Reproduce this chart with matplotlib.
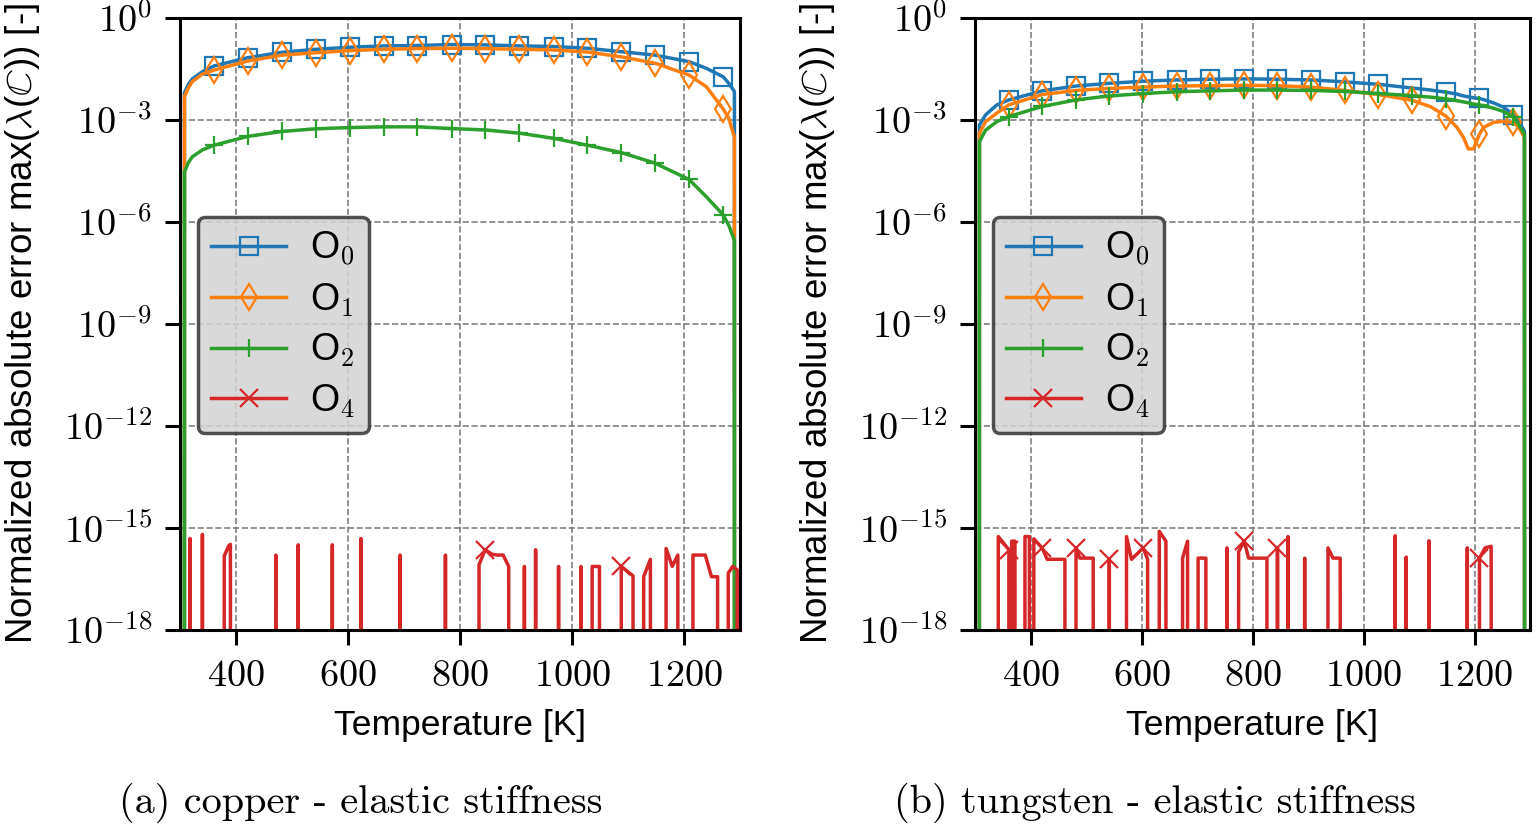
import numpy as np
import matplotlib
matplotlib.use("Agg")
import matplotlib.pyplot as plt
from matplotlib.ticker import FixedLocator, FixedFormatter, NullLocator

plt.rcParams['font.family'] = ['Liberation Sans', 'DejaVu Sans']
plt.rcParams['mathtext.fontset'] = 'cm'
plt.rcParams['font.size'] = 25

# marker positions (every ~60 K)
T_MARK = [361, 421, 482, 542, 603, 664, 724, 785, 845, 906, 967, 1027, 1088, 1148, 1209, 1270]

# ---- copper ----
cu_T = [300, 308, 315, 322, 340, 361, 421, 482, 542, 603, 664, 724, 785, 845, 906, 967,
        1027, 1088, 1148, 1209, 1240, 1270, 1280, 1290, 1300]
cu_o0 = [0, 6.3e-3, 1.12e-2, 1.62e-2, 2.63e-2, 3.9e-2, 6.8e-2, 9.8e-2, 0.12, 0.138, 0.151, 0.155,
         0.166, 0.162, 0.151, 0.145, 0.129, 0.102, 8.1e-2, 5.2e-2, 3.3e-2, 1.86e-2, 1.2e-2, 6.9e-3, 0]
cu_o1 = [0, 4.9e-3, 8.9e-3, 1.35e-2, 2.24e-2, 2.95e-2, 5.4e-2, 8.1e-2, 9.5e-2, 0.11, 0.12, 0.126,
         0.129, 0.126, 0.12, 0.115, 0.1, 7.2e-2, 4.7e-2, 2.1e-2, 9.5e-3, 2.1e-3, 1.12e-3, 3.2e-4, 0]
cu_o2 = [0, 3.0e-5, 5.6e-5, 8.3e-5, 1.32e-4, 1.82e-4, 3.3e-4, 4.6e-4, 5.5e-4, 6.0e-4, 6.3e-4, 6.3e-4,
         5.6e-4, 5.1e-4, 4.1e-4, 2.9e-4, 1.82e-4, 1.1e-4, 5.4e-5, 1.78e-5, 5.5e-6, 1.62e-6, 7.9e-7,
         2.9e-7, 0]
cu_o4_T = [300, 318, 329, 340, 360, 379, 387, 390, 430, 471, 490, 511, 540, 572, 600, 623, 660,
           693, 730, 774, 800, 834, 845, 857, 867, 877, 887, 900, 915, 925, 935, 955, 976, 995,
           1016, 1025, 1036, 1049, 1070, 1088, 1109, 1118, 1128, 1140, 1155, 1168, 1179, 1189,
           1200, 1216, 1238, 1249, 1260, 1270, 1279, 1287, 1295, 1300]
cu_o4 = [0, 4.9e-16, 0, 6.5e-16, 0, 1.5e-16, 3.0e-16, 3.3e-16, 0, 1.6e-16, 0, 3.2e-16, 0, 3.2e-16, 0,
         4.9e-16, 0, 1.6e-16, 0, 1.6e-16, 0, 8.3e-17, 2.3e-16, 1.7e-16, 1.6e-16, 1.6e-16, 7.4e-17, 0,
         7.4e-17, 0, 2.3e-16, 0, 7.4e-17, 0, 7.4e-17, 0, 7.4e-17, 7.4e-17, 0, 7.4e-17, 3.9e-17, 0,
         3.7e-17, 1.2e-16, 0, 2.5e-16, 7.4e-17, 1.6e-16, 0, 1.6e-16, 1.6e-16, 3.7e-17, 3.7e-17, 0,
         4.7e-17, 7.4e-17, 5.9e-17, 0]

# ---- tungsten ----
w_T = [300, 308, 319, 339, 361, 421, 482, 542, 603, 664, 724, 785, 845, 906, 967, 1027, 1088,
       1121, 1148, 1168, 1180, 1189, 1198, 1209, 1216, 1234, 1252, 1270, 1280, 1290, 1300]
w_o0 = [0, 7.1e-4, 1.41e-3, 2.75e-3, 3.9e-3, 7.2e-3, 1.0e-2, 1.2e-2, 1.38e-2, 1.51e-2, 1.58e-2,
        1.62e-2, 1.58e-2, 1.51e-2, 1.32e-2, 1.12e-2, 8.7e-3, 7.6e-3, 6.6e-3, 5.8e-3, 5.1e-3, 4.8e-3,
        4.5e-3, 4.3e-3, 4.0e-3, 3.2e-3, 2.4e-3, 1.45e-3, 8.9e-4, 4.7e-4, 0]
w_o1 = [0, 4.1e-4, 8.9e-4, 1.58e-3, 2.8e-3, 5.6e-3, 7.4e-3, 8.5e-3, 9.3e-3, 1.0e-2, 1.02e-2,
        1.05e-2, 1.02e-2, 9.3e-3, 7.4e-3, 5.6e-3, 3.8e-3, 2.45e-3, 1.32e-3, 6.2e-4, 3.1e-4,
        1.41e-4, 1.41e-4, 3.8e-4, 6.0e-4, 8.5e-4, 9.1e-4, 8.5e-4, 6.0e-4, 3.1e-4, 0]
w_o2 = [0, 2.3e-4, 5.0e-4, 8.9e-4, 1.26e-3, 2.5e-3, 3.9e-3, 5.1e-3, 6.0e-3, 6.8e-3, 7.2e-3,
        7.6e-3, 7.6e-3, 7.4e-3, 6.9e-3, 6.0e-3, 5.2e-3, 4.7e-3, 4.2e-3, 3.7e-3, 3.4e-3, 3.2e-3,
        2.95e-3, 2.8e-3, 2.6e-3, 2.24e-3, 1.78e-3, 1.23e-3, 7.1e-4, 3.8e-4, 0]
w_o4_T = [300, 342, 361, 363, 366, 372, 380, 390, 398, 402, 406, 421, 430, 462, 470, 482, 489, 513,
          525, 542, 555, 573, 582, 603, 611, 620, 632, 644, 655, 674, 683, 690, 702, 716, 730, 754,
          765, 775, 785, 793, 826, 835, 845, 855, 864, 880, 894, 915, 936, 945, 958, 1000, 1057,
          1065, 1077, 1100, 1118, 1150, 1187, 1200, 1209, 1219, 1230, 1260, 1300]
w_o4 = [0, 5.6e-16, 2.3e-16, 0, 4.1e-16, 4.1e-16, 0, 5.6e-16, 5.6e-16, 0, 4.8e-16, 2.6e-16,
        1.2e-16, 1.2e-16, 0, 2.6e-16, 1.3e-16, 1.3e-16, 0, 1.2e-16, 0, 5.6e-16, 1.2e-16, 2.6e-16,
        1.2e-16, 0, 8e-16, 4.1e-16, 0, 1.3e-16, 4.1e-16, 0, 1.3e-16, 1.3e-16, 0, 2.6e-16, 0,
        2.0e-16, 4.1e-16, 1.3e-16, 1.3e-16, 0, 2.6e-16, 0, 5.6e-16, 0, 1.3e-16, 0, 2.6e-16,
        1.3e-16, 1.3e-16, 0, 5.9e-16, 0, 1.4e-16, 0, 4.2e-16, 0, 2.6e-16, 0, 1.3e-16, 2.6e-16,
        2.9e-16, 0, 0]

labels = ['O$_0$', 'O$_1$', 'O$_2$', 'O$_4$']
markers = ['s', 'd', '+', 'x']
colors = ['tab:blue', 'tab:orange', 'tab:green', 'tab:red']
yticks = [1e0, 1e-3, 1e-6, 1e-9, 1e-12, 1e-15, 1e-18]
ylabels = [r'$10^{0}$', r'$10^{-3}$', r'$10^{-6}$', r'$10^{-9}$', r'$10^{-12}$', r'$10^{-15}$',
           r'$10^{-18}$']
xticks = [400, 600, 800, 1000, 1200]

panels = [
    ([cu_T, cu_T, cu_T, cu_o4_T], [cu_o0, cu_o1, cu_o2, cu_o4], '(a) copper - elastic stiffness'),
    ([w_T, w_T, w_T, w_o4_T], [w_o0, w_o1, w_o2, w_o4], '(b) tungsten - elastic stiffness'),
]

fig = plt.figure(figsize=(15.36, 8.24), dpi=100)
ax1 = fig.add_axes([180 / 1536, 1 - 630 / 824, 560 / 1536, 612 / 824])
ax2 = fig.add_axes([975 / 1536, 1 - 630 / 824, 555 / 1536, 612 / 824])

for ax, (Ts, Ys, caption), cx in zip([ax1, ax2], panels, [361, 1155]):
    ax.set_yscale('log', nonpositive='clip')
    for T, y, lab, mk, c in zip(Ts, Ys, labels, markers, colors):
        T = np.array(T, dtype=float)
        ax.plot(T, np.array(y, dtype=float), color=c, lw=2.5, marker=mk, ms=13, mew=1.6,
                mfc='none', markevery=list(np.where(np.isin(T, T_MARK))[0]), label=lab)
    ax.set_xlim(300, 1300)
    ax.set_ylim(1e-18, 1.0)
    ax.yaxis.set_major_locator(FixedLocator(yticks))
    ax.yaxis.set_major_formatter(FixedFormatter(ylabels))
    ax.yaxis.set_minor_locator(NullLocator())
    ax.set_xticks(xticks)
    ax.set_xticklabels([r'$%d$' % v for v in xticks])
    ax.tick_params(width=2.2, length=11, labelsize=27.5, pad=9)
    for s in ax.spines.values():
        s.set_linewidth(2.2)
    ax.grid(True, ls='--', color='gray', lw=1.2)
    ax.set_xlabel('Temperature [K]', fontsize=25.5, labelpad=11)
    ax.set_ylabel(r'Normalized absolute error max($\lambda$($\mathbb{C}$)) [-]', fontsize=26.5,
                  labelpad=16)
    leg = ax.legend(loc='upper left', bbox_to_anchor=(0.032, 0.675), borderaxespad=0,
                    fontsize=27, facecolor='lightgray', edgecolor='#333333', framealpha=0.85,
                    handlelength=2.0, handletextpad=0.65, labelspacing=0.35, borderpad=0.35)
    leg.get_frame().set_linewidth(2.5)
    fig.text(cx / 1536, 1 - 803 / 824, caption, ha='center', va='center',
             family='cmr10', fontsize=29)

fig.savefig('out.png', dpi=100)
